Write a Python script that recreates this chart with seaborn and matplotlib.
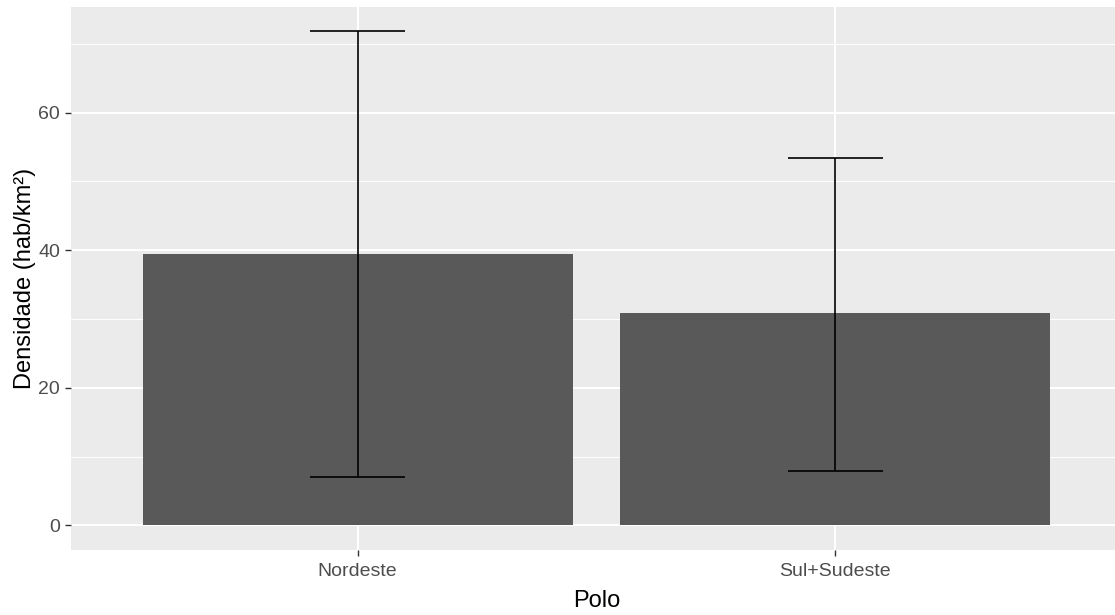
import matplotlib
matplotlib.use("Agg")
import matplotlib.pyplot as plt
from matplotlib.ticker import MultipleLocator
import seaborn as sns
import pandas as pd

# Mean population density by region, with lower/upper error limits
polos = ["Nordeste", "Sul+Sudeste"]
densidade = [39.5, 30.8]
limite_inferior = [7.0, 7.9]
limite_superior = [71.8, 53.4]

df = pd.DataFrame({"Polo": polos, "Densidade": densidade,
                   "inf": limite_inferior, "sup": limite_superior})

sns.set_theme(style="darkgrid", rc={
    "axes.facecolor": "#EBEBEB",
    "grid.color": "white",
    "axes.edgecolor": "#EBEBEB",
})
plt.rcParams["font.family"] = ["Liberation Sans", "DejaVu Sans"]

fig = plt.figure(figsize=(11.15, 6.15), dpi=100)
W, H = 1115, 615
ax = fig.add_axes([71 / W, 1 - 550 / H, 1051 / W, (550 - 6.7) / H])

sns.barplot(data=df, x="Polo", y="Densidade", color="#595959", width=0.9,
            saturation=1, errorbar=None, linewidth=0, ax=ax)

# Error bars: vertical segment plus caps of 0.2 category width
xs = range(len(df))
ax.vlines(list(xs), df["inf"], df["sup"], color="black", linewidth=1.2, zorder=3)
for x, lo, hi in zip(xs, df["inf"], df["sup"]):
    ax.hlines([lo, hi], x - 0.1, x + 0.1, color="black", linewidth=1.2, zorder=3)

top = max(limite_superior)
ax.set_ylim(-0.05 * top, 1.05 * top)
ax.set_xlim(-0.6, 1.6)

ax.yaxis.set_major_locator(MultipleLocator(20))
ax.yaxis.set_minor_locator(MultipleLocator(10))
ax.set_axisbelow(True)
ax.grid(which="major", color="white", linewidth=1.5)
ax.grid(which="minor", axis="y", color="white", linewidth=0.7)
for s in ax.spines.values():
    s.set_visible(False)

ax.tick_params(axis="both", which="major", length=4.3, width=1.0, color="#333333",
               labelcolor="#4D4D4D", labelsize=14, pad=3.5, bottom=True, left=True)
ax.tick_params(axis="x", which="major", pad=5)
ax.tick_params(axis="both", which="minor", length=0)

ax.set_xlabel("Polo", fontsize=17, color="black", labelpad=7)
ax.set_ylabel("Densidade (hab/km²)", fontsize=17, color="black", labelpad=1.5)

fig.savefig("out.png", dpi=100, facecolor="white")
